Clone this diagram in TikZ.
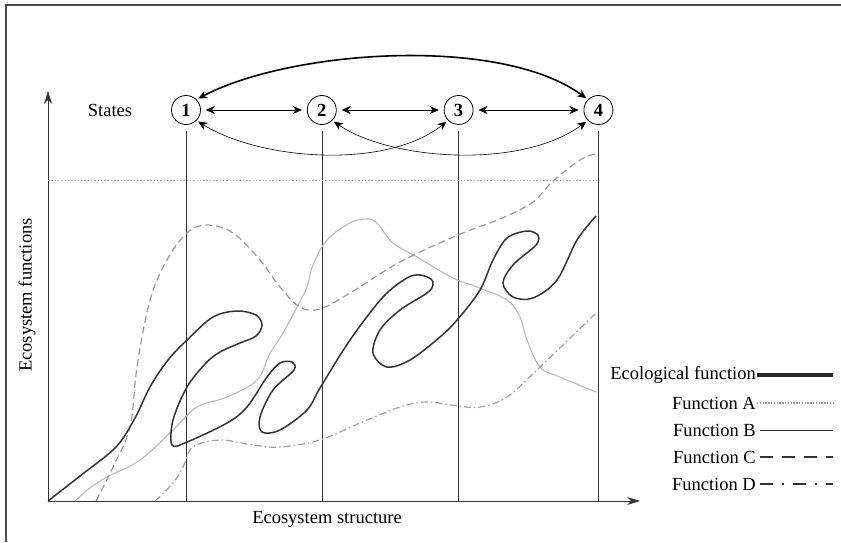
\documentclass[tikz,border=0pt]{standalone}
\usepackage{fontspec}
\setmainfont{Liberation Serif}
\usepackage{tikz}
\usetikzlibrary{arrows.meta,positioning}

\begin{document}
\begin{tikzpicture}[x=1pt, y=-1pt,
    font=\fontsize{18.5}{20}\selectfont,
    state/.style={draw, circle, thick, minimum size=29pt, inner sep=0pt, font=\fontsize{18.5}{20}\selectfont\bfseries},
    trans/.style={{Stealth[length=9pt,width=8pt]}-{Stealth[length=9pt,width=8pt]}, semithick, shorten <=5pt, shorten >=5pt},
    axis/.style={-{Stealth[length=13pt,width=8pt]}, semithick, black!80},
    eco/.style={line width=1.5pt, black!80},
    fnA/.style={gray!70, line width=1pt, dash pattern=on 1.5pt off 1.8pt},
    fnB/.style={gray!55, line width=1.1pt},
    fnC/.style={gray!80, line width=1.2pt, dash pattern=on 7pt off 4pt},
    fnD/.style={gray!75, line width=1.2pt, dash pattern=on 7pt off 3pt on 1.5pt off 3pt}]
  \useasboundingbox (0,0) rectangle (841,542);
  % frame
  \draw[line width=1.5pt, black!70] (6,542) -- (6,5) -- (841,5);

  % axes
  \coordinate (o) at (48,501);
  \coordinate (ytip) at (48,91);
  \coordinate (xtip) at (640,501);
  \draw[axis] (o) -- (ytip);
  \draw[axis] (o) -- (xtip);
  \node (ylab) [rotate=90] at (27,295) {Ecosystem functions};
  \node (xlab) at (327,519) {Ecosystem structure};

  % states
  \node (lab) at (110,110) {States};
  \node (s1) [state] at (186,110) {1};
  \node (s2) [state, right=106pt of s1] {2};
  \node (s3) [state, right=107pt of s2] {3};
  \node (s4) [state, right=110pt of s3] {4};
  \foreach \s in {s1,s2,s3,s4}
    \draw[semithick, black!80] (\s.south |- 0,131) -- (\s.south |- 0,501);
  \draw[trans] (s1) -- (s2);
  \draw[trans] (s2) -- (s3);
  \draw[trans] (s3) -- (s4);
  \draw[trans, line width=1.6pt, shorten <=2pt, shorten >=2pt]
    (s1.north east) .. controls (290,50) and (500,35) .. (s4.north west);
  \draw[trans, shorten <=2pt, shorten >=2pt]
    (s1.south east) .. controls (260,160) and (385,170) .. (s3.south west);
  \draw[trans, shorten <=2pt, shorten >=2pt]
    (s2.south east) .. controls (390,160) and (520,170) .. (s4.south west);

  % function A
  \draw[fnA] (48,180) -- (596,180);

  % function B
  \draw[fnB] plot[smooth, tension=0.6] coordinates {(75,501) (90,488) (107,477)
    (140,460) (173,430) (197,407) (227,397) (257,380) (270,353) (282,335)
    (297,307) (307,287) (313,265) (327,240) (350,223) (367,219) (377,223)
    (393,243) (417,257) (453,278) (477,287) (507,300) (520,317) (527,340)
    (540,367) (560,377) (596,392)};

  % function C
  \draw[fnC] plot[smooth, tension=0.6] coordinates {(96,501) (113,467) (130,427)
    (137,367) (150,300) (167,260) (187,233) (207,225) (233,233) (260,260)
    (280,287) (300,307) (320,309) (350,293) (400,262) (458,235) (500,219)
    (533,202) (553,181) (580,160) (595,154)};

  % function D
  \draw[fnD] plot[smooth, tension=0.6] coordinates {(155,501) (173,483) (183,467)
    (193,447) (220,440) (253,445) (280,447) (320,440) (360,423) (400,407)
    (427,402) (458,406) (480,407) (507,397) (540,367) (596,313)};

  % ecological function
  \draw[eco] plot[smooth, tension=0.55] coordinates {(48,501) (80,476) (116,447)
    (135,418) (150,387) (168,360) (187,340) (213,317) (237,311) (256,315)
    (262,325) (256,336) (240,343) (220,352) (206,363) (187,387) (173,420)
    (172,445) (187,442) (227,423) (247,407) (267,377) (280,363) (292,362)
    (294,370) (273,390) (260,417) (262,432) (280,430) (307,410) (320,388)
    (350,340) (383,297) (407,278) (420,275) (431,279) (433,285) (427,293)
    (400,310) (380,330) (373,353) (387,367) (410,360) (440,337) (458,319)
    (480,290) (493,260) (507,238) (527,231) (538,235) (538,242) (533,248)
    (513,265) (503,283) (513,297) (533,298) (557,280) (577,240) (596,216)};

  % legend
  \node (leco) [anchor=east, inner sep=1pt] at (757,375) {Ecological function};
  \node (lA) [anchor=east, inner sep=1pt] at (757,403) {Function A};
  \node (lB) [anchor=east, inner sep=1pt] at (757,430) {Function B};
  \node (lC) [anchor=east, inner sep=1pt] at (757,457) {Function C};
  \node (lD) [anchor=east, inner sep=1pt] at (757,484) {Function D};
  \draw[line width=3.5pt, black!85] (leco.east) -- ++(76,0);
  \draw[line width=1.2pt, gray!80, dash pattern=on 1.3pt off 1.5pt] (lA.east) -- ++(76,0);
  \draw[line width=1pt, black!85] (lB.east) ++(3,0) -- ++(73,0);
  \draw[line width=2.5pt, black!80, dash pattern=on 13pt off 9pt] (lC.east) ++(3,0) -- ++(73,0);
  \draw[line width=2.5pt, black!80, dash pattern=on 13pt off 9pt on 2pt off 9pt] (lD.east) ++(3,0) -- ++(73,0);
\end{tikzpicture}
\end{document}
